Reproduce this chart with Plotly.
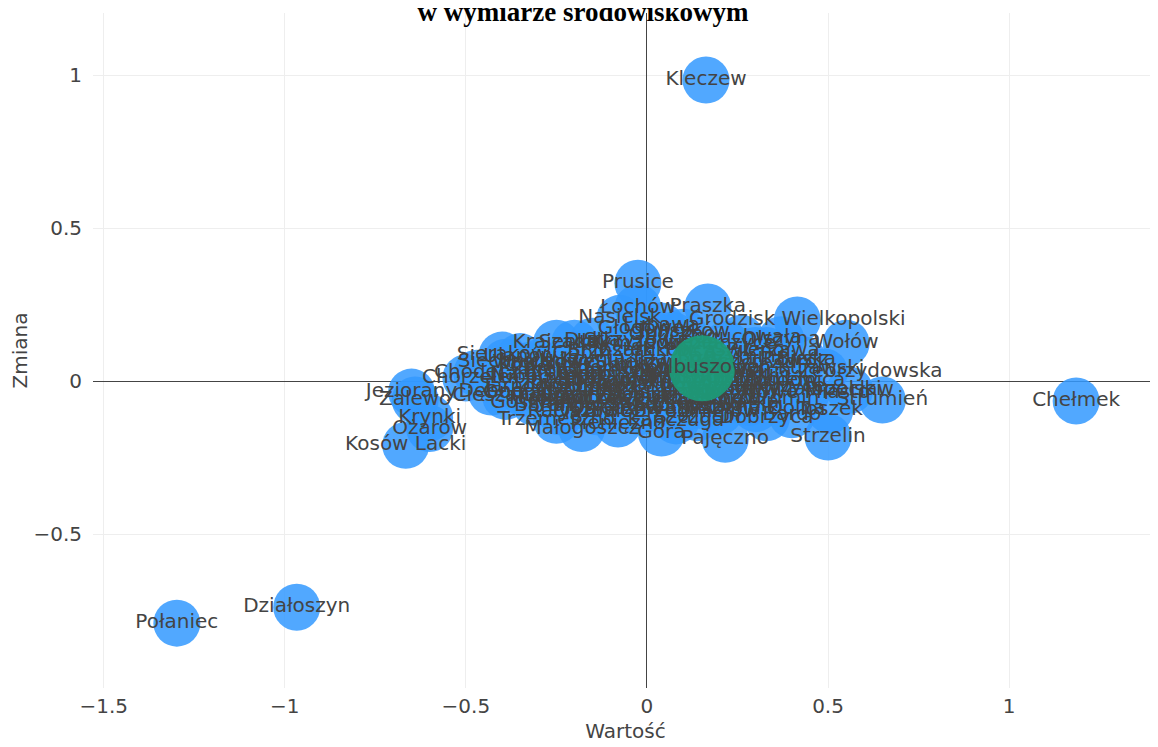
import plotly.graph_objects as go

# ---- data ----
names = [
    "Kleczew", "Chełmek", "Połaniec", "Działoszyn", "Kosów Lacki", "Ożarów", "Krynki",
    "Jeziorany", "Zalewo", "Sieraków", "Siechnice", "Chodecz", "Chorzele", "Dębno",
    "Gostynin", "Trzemeszno", "Raciąż", "Krajenka", "Szadek", "Wasilków", "Skępe",
    "Lipno", "Rypin", "Sejny", "Goniądz", "Kcynia", "Oborniki", "Łasin", "Rajgród",
    "Tyszowce", "Małogoszcz", "Osieczna", "Brzostek", "Strzyżów", "Nasielsk", "Łochów",
    "Prusice", "Głogówek", "Lubawa", "Opoczno", "Czarnków", "Sulejów", "Wronki",
    "Stawiski", "Koziegłowy", "Żychlin", "Szczekociny", "Białobrzegi", "Góra", "Praszka",
    "Tuliszków", "Pilica", "Boguchwała", "Olszyna", "Świerzawa", "Grodzisk Wielkopolski",
    "Wołów", "Kalwaria Zebrzydowska", "Przecław", "Strumień", "Toszek", "Strzelin",
    "Pajęczno", "Wąsosz", "Kłecko", "Ryki", "Mszana Dolna", "Żuromin", "Bardo",
    "Zawidów", "Lubień Kujawski", "Połczyn-Zdrój", "Słomniki", "Radzymin", "Witkowo",
    "Mordy", "Biecz", "Szczucin", "Kańczuga", "Pieniężno", "Bobolice", "Uniejów",
    "Dobrzyca", "Kórnik", "Lubomierz", "Izbica Kujawska",
    "Kowal", "Brok", "Nowe", "Gąbin", "Drobin", "Bodzentyn", "Daleszyce", "Chęciny",
    "Iłża", "Lipsko", "Zwoleń", "Przysucha", "Drzewica", "Skaryszew", "Pionki",
    "Wyśmierzyce", "Biała Rawska", "Mogielnica", "Nowe Miasto", "Warka", "Tarczyn",
    "Żelechów", "Łaskarzew", "Stoczek Łukowski", "Kock", "Ostrów Lubelski", "Annopol",
    "Józefów", "Frampol", "Tarnogród", "Narol", "Cieszanów", "Baranów Sandomierski",
    "Radomyśl Wielki", "Pilzno", "Kołaczyce", "Jedlicze", "Rymanów", "Dukla", "Ulanów",
    "Sokołów Małopolski",
]
wartosc = [
    0.163, 1.185, -1.298, -0.967, -0.666, -0.60, -0.60,
    -0.65, -0.64, -0.40, -0.39, -0.47, -0.50, -0.43,
    -0.31, -0.25, -0.24, -0.25, -0.20, -0.30, -0.27,
    -0.20, -0.22, -0.17, -0.34, -0.15, -0.12, -0.12, -0.19,
    -0.14, -0.18, -0.09, -0.10, -0.05, -0.075, -0.025,
    -0.025, 0.00, 0.04, 0.07, 0.00, -0.04, 0.02,
    -0.06, 0.03, -0.04, 0.06, -0.02, 0.04, 0.168,
    0.10, 0.12, 0.26, 0.37, 0.33, 0.415,
    0.55, 0.49, 0.56, 0.65, 0.505, 0.50,
    0.216, 0.10, 0.20, 0.26, 0.30, 0.36, 0.40,
    0.35, 0.38, 0.30, 0.25, 0.22, 0.08,
    0.12, 0.43, 0.14, 0.08, -0.08, -0.12, 0.20,
    0.33, -0.09, -0.29, -0.15,
    -0.33, -0.28, -0.22, -0.18, -0.14, -0.10, -0.06, -0.02,
    0.01, 0.05, 0.09, 0.12, 0.18, 0.22, 0.27,
    0.31, 0.34, 0.40, 0.44, 0.28, 0.24,
    0.18, 0.06, -0.02, -0.08, -0.13, -0.19,
    -0.23, -0.27, -0.32, -0.36, -0.39, -0.05,
    0.15, 0.30, 0.22, 0.08, -0.03, -0.15, -0.35,
    0.38,
]
zmiana = [
    0.984, -0.065, -0.791, -0.739, -0.21, -0.155, -0.12,
    -0.036, -0.062, 0.085, 0.062, 0.026, 0.01, -0.036,
    -0.07, -0.128, -0.10, 0.124, 0.124, 0.06, 0.04,
    0.02, -0.03, -0.05, -0.04, 0.07, 0.04, -0.02, -0.08,
    -0.10, -0.155, -0.09, 0.10, 0.13, 0.205, 0.24,
    0.32, 0.17, 0.18, 0.15, 0.10, 0.06, 0.04,
    0.00, -0.02, -0.05, -0.07, -0.10, -0.17, 0.242,
    0.16, 0.10, 0.14, 0.135, 0.10, 0.20,
    0.124, 0.03, -0.03, -0.062, -0.095, -0.183,
    -0.19, -0.09, -0.06, -0.03, -0.09, -0.06, -0.11,
    0.00, 0.04, 0.06, 0.01, 0.08, 0.01,
    -0.04, 0.07, -0.12, -0.13, -0.14, -0.06, -0.10,
    -0.12, 0.05, 0.01, -0.01,
    0.05, 0.03, 0.06, 0.09, 0.02, 0.00, 0.03, 0.01,
    0.07, 0.03, 0.05, 0.01, 0.00, -0.03, 0.02,
    -0.02, 0.07, 0.00, -0.04, -0.07, 0.04,
    -0.06, -0.04, -0.06, -0.03, -0.05, -0.02,
    0.00, -0.06, -0.02, 0.02, -0.05, -0.08,
    -0.08, 0.10, 0.12, 0.12, 0.12, 0.13, 0.08,
    -0.03,
]

highlight_name = ["Kolbuszowa"]
highlight_x = [0.152]
highlight_y = [0.042]

title_text = "w wymiarze środowiskowym"
x_title = "Wartość"
y_title = "Zmiana"
x_ticks = [-1.5, -1, -0.5, 0, 0.5, 1]
y_ticks = [-0.5, 0, 0.5, 1]

FONT = "DejaVu Sans, Verdana, sans-serif"
label_font = dict(family=FONT, size=20, color="#444")

fig = go.Figure()
fig.add_trace(go.Scatter(
    x=wartosc, y=zmiana, text=names, mode="markers+text",
    textposition="middle center", textfont=label_font,
    marker=dict(size=47, color="#3399ff", opacity=0.85, line=dict(width=0)),
    showlegend=False,
))
fig.add_trace(go.Scatter(
    x=highlight_x, y=highlight_y, text=highlight_name, mode="markers+text",
    textposition="middle center", textfont=label_font,
    marker=dict(size=66, color="#1e9a78", opacity=0.95, line=dict(width=0)),
    showlegend=False,
))

axis_common = dict(
    showgrid=True, gridcolor="#eeeeee", zeroline=True, zerolinecolor="#444",
    zerolinewidth=1, showline=False, ticks="", automargin=False,
    tickfont=dict(family=FONT, size=20, color="#444"),
)
fig.update_layout(
    template="none",
    width=1150, height=739,
    margin=dict(l=85, r=0, t=5, b=59),
    paper_bgcolor="white", plot_bgcolor="white",
    title=dict(text="<b>" + title_text + "</b>", x=0.5, xanchor="center",
               y=0.9826, yanchor="bottom", yref="container",
               font=dict(family="Liberation Serif, Times New Roman, serif", size=27, color="black")),
    xaxis=dict(range=[-1.5295, 1.411], tickvals=x_ticks, ticklabelstandoff=4,
               title=dict(text=x_title, font=dict(family=FONT, size=20, color="#444"), standoff=6),
               **axis_common),
    yaxis=dict(range=[-1.003, 1.203], tickvals=y_ticks, ticklabelstandoff=10,
               title=dict(text=y_title, font=dict(family=FONT, size=20, color="#444"), standoff=10),
               **axis_common),
)

fig.write_html("out.html")
